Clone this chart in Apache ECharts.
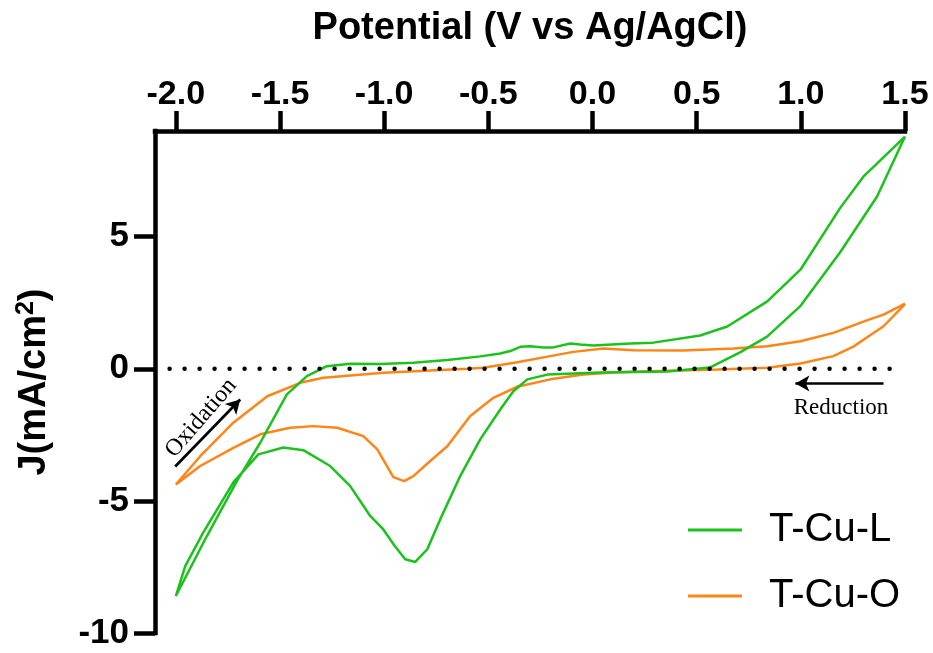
<!DOCTYPE html>
<html>
<head>
<meta charset="utf-8">
<script src="https://cdn.jsdelivr.net/npm/echarts@6/dist/echarts.min.js"></script>
<style>
html,body{margin:0;padding:0;background:#fff;}
#chart{width:933px;height:653px;}
</style>
</head>
<body>
<div id="chart"></div>
<script>
// ---- Data (potential V vs Ag/AgCl, current density mA/cm2) ----
const seriesNames = ['T-Cu-L', 'T-Cu-O'];
const xTickValues = [-2.0, -1.5, -1.0, -0.5, 0.0, 0.5, 1.0, 1.5];
const yTickValues = [-10, -5, 0, 5];

// T-Cu-L: reduction sweep (1.5 -> -2.0)
const tcuLReduction = [
  [1.500, 8.79], [1.366, 6.52], [1.188, 4.40], [0.996, 2.36], [0.838, 1.22],
  [0.708, 0.62], [0.565, 0.05], [0.359, -0.10], [0.037, -0.14], [-0.217, -0.22],
  [-0.313, -0.40], [-0.380, -0.85], [-0.443, -1.54], [-0.539, -2.67], [-0.635, -4.06],
  [-0.731, -5.70], [-0.793, -6.83], [-0.851, -7.31], [-0.899, -7.21], [-0.950, -6.70],
  [-1.004, -6.08], [-1.067, -5.57], [-1.163, -4.44], [-1.259, -3.68], [-1.388, -3.08],
  [-1.484, -2.98], [-1.604, -3.24], [-1.724, -4.30], [-1.868, -6.19], [-1.955, -7.47],
  [-2.000, -8.60]
];
// T-Cu-L: oxidation sweep (-2.0 -> 1.5)
const tcuLOxidation = [
  [-2.000, -8.60], [-1.851, -6.33], [-1.707, -4.25], [-1.595, -2.80], [-1.467, -0.97],
  [-1.371, -0.28], [-1.275, 0.10], [-1.163, 0.19], [-1.019, 0.18], [-0.860, 0.23],
  [-0.697, 0.33], [-0.539, 0.47], [-0.443, 0.58], [-0.395, 0.67], [-0.347, 0.83],
  [-0.299, 0.85], [-0.236, 0.81], [-0.188, 0.81], [-0.107, 0.96], [-0.059, 0.92],
  [0.004, 0.88], [0.182, 0.96], [0.292, 0.99], [0.517, 1.26], [0.647, 1.60],
  [0.839, 2.55], [0.998, 3.75], [1.190, 6.10], [1.300, 7.27], [1.500, 8.79]
];
// T-Cu-O: reduction sweep (1.5 -> -2.0)
const tcuOReduction = [
  [1.500, 2.45], [1.397, 1.61], [1.320, 1.20], [1.252, 0.84], [1.156, 0.48],
  [0.998, 0.20], [0.839, 0.04], [0.599, -0.03], [0.277, -0.09], [0.119, -0.13],
  [-0.044, -0.22], [-0.203, -0.40], [-0.361, -0.68], [-0.476, -1.10], [-0.587, -1.79],
  [-0.697, -2.93], [-0.779, -3.49], [-0.860, -4.06], [-0.904, -4.25], [-0.956, -4.10],
  [-1.033, -3.05], [-1.100, -2.55], [-1.225, -2.23], [-1.340, -2.17], [-1.451, -2.23],
  [-1.595, -2.48], [-1.724, -2.99], [-1.883, -3.68], [-2.000, -4.38]
];
// T-Cu-O: oxidation sweep (-2.0 -> 1.5)
const tcuOOxidation = [
  [-2.000, -4.38], [-1.883, -3.31], [-1.724, -2.04], [-1.561, -1.04], [-1.403, -0.53],
  [-1.292, -0.34], [-1.004, -0.15], [-0.601, 0.00], [-0.524, 0.04], [-0.361, 0.25],
  [-0.203, 0.48], [-0.092, 0.64], [0.052, 0.77], [0.196, 0.70], [0.436, 0.69],
  [0.676, 0.77], [0.839, 0.85], [0.998, 1.04], [1.156, 1.36], [1.320, 1.84],
  [1.397, 2.05], [1.500, 2.47]
];
// zero reference (dotted)
const zeroLine = [[-2.03, 0], [1.43, 0]];
// annotation arrows (data coordinates)
const oxidationArrow = [[-2.003, -3.70], [-1.691, -1.16]];
const reductionArrow = [[1.397, -0.56], [0.974, -0.56]];

// ---- Chart ----
const GREEN = '#1CC21C';
const ORANGE = '#FF8518';
const chart = echarts.init(document.getElementById('chart'), null, {renderer: 'canvas'});
const BOLD = 'Liberation Sans, Arial, sans-serif';

const option = {
  backgroundColor: '#ffffff',
  animation: false,
  grid: [
    {left: 155, right: 28, top: 131, bottom: 20},
    {left: 175.83, right: 28, top: 131, bottom: 20},
    {left: 155, right: 28, top: 236.7, bottom: 20}
  ],
  xAxis: [
    {
      gridIndex: 0, type: 'value', min: -2.1, max: 1.5, position: 'top',
      axisLine: {show: true, onZero: false, lineStyle: {color: '#000', width: 4.5, cap: 'square'}},
      axisTick: {show: false}, axisLabel: {show: false}, splitLine: {show: false},
      name: 'Potential (V vs Ag/AgCl)', nameLocation: 'middle', nameGap: 83,
      nameTextStyle: {fontFamily: BOLD, fontWeight: 'bold', fontSize: 38, color: '#000'}
    },
    {
      gridIndex: 1, type: 'value', min: xTickValues[0], max: xTickValues[xTickValues.length - 1],
      interval: 0.5, position: 'top',
      axisLine: {show: false, onZero: false},
      axisTick: {show: true, length: 20, lineStyle: {color: '#000', width: 4.5}},
      axisLabel: {show: true, margin: 19, fontFamily: BOLD, fontWeight: 'bold', fontSize: 34, color: '#000',
        formatter: v => v.toFixed(1)},
      splitLine: {show: false}
    },
    {gridIndex: 2, type: 'value', min: -2.1, max: 1.5, show: false}
  ],
  yAxis: [
    {
      gridIndex: 0, type: 'value', min: -10, max: 9,
      axisLine: {show: true, onZero: false, lineStyle: {color: '#000', width: 4.5, cap: 'square'}},
      axisTick: {show: false}, axisLabel: {show: false}, splitLine: {show: false},
      name: 'J(mA/cm{sup|2})', nameLocation: 'middle', nameRotate: 90, nameGap: 100,
      nameTextStyle: {fontFamily: BOLD, fontWeight: 'bold', fontSize: 38, color: '#000',
        rich: {sup: {fontFamily: BOLD, fontWeight: 'bold', fontSize: 25, color: '#000', verticalAlign: 'top', padding: [0, 0, 16, 0]}}}
    },
    {gridIndex: 1, type: 'value', min: -10, max: 9, show: false},
    {
      gridIndex: 2, type: 'value', min: yTickValues[0], max: yTickValues[yTickValues.length - 1], interval: 5,
      axisLine: {show: false, onZero: false},
      axisTick: {show: true, length: 21, lineStyle: {color: '#000', width: 4.5}},
      axisLabel: {show: true, margin: 26, fontFamily: BOLD, fontWeight: 'bold', fontSize: 35, color: '#000'},
      splitLine: {show: false}
    }
  ],
  legend: {
    data: seriesNames,
    orient: 'vertical',
    left: 683, top: 505,
    icon: 'rect', itemWidth: 54, itemHeight: 3, itemGap: 26,
    textStyle: {fontFamily: 'Liberation Sans, Arial, sans-serif', fontSize: 40, color: '#000', padding: [0, 0, 0, 22]}
  },
  series: [
    {
      name: 'T-Cu-O', type: 'line', xAxisIndex: 0, yAxisIndex: 0,
      data: tcuOReduction.concat(tcuOOxidation.slice(1)),
      showSymbol: false, symbol: 'none', smooth: false,
      lineStyle: {color: ORANGE, width: 2.5}, itemStyle: {color: ORANGE}
    },
    {
      name: 'T-Cu-L', type: 'line', xAxisIndex: 0, yAxisIndex: 0,
      data: tcuLReduction.concat(tcuLOxidation.slice(1)),
      showSymbol: false, symbol: 'none', smooth: false,
      lineStyle: {color: GREEN, width: 2.5}, itemStyle: {color: GREEN}
    },
    {
      name: 'zero', type: 'line', xAxisIndex: 0, yAxisIndex: 0,
      data: zeroLine, showSymbol: false, symbol: 'none', silent: true,
      lineStyle: {color: '#000', width: 4.5, type: [0, 15], cap: 'round'},
      markLine: {
        silent: true, animation: false,
        symbol: ['none', 'arrow'], symbolSize: [12, 14],
        lineStyle: {color: '#000', width: 2.7, type: 'solid'},
        label: {show: false},
        data: [
          [{coord: oxidationArrow[0]}, {coord: oxidationArrow[1]}],
          [{coord: reductionArrow[0]}, {coord: reductionArrow[1]}]
        ]
      }
    }
  ],
  graphic: [
    {
      type: 'text', x: 201, y: 418, rotation: 0.86,
      style: {text: 'Oxidation', font: '24px "Liberation Serif", "Times New Roman", serif',
        fill: '#000', textAlign: 'center', textVerticalAlign: 'middle'}
    },
    {
      type: 'text', x: 841, y: 408,
      style: {text: 'Reduction', font: '23px "Liberation Serif", "Times New Roman", serif',
        fill: '#000', textAlign: 'center', textVerticalAlign: 'middle'}
    }
  ]
};
chart.setOption(option);
</script>
</body>
</html>
